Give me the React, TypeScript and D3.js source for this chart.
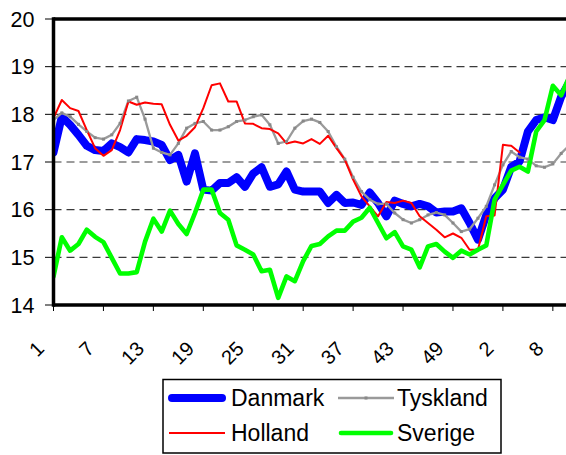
import React from "react";
import * as d3 from "d3";

const weeks: number[] = d3.range(63).map((i) => (i < 53 ? i + 1 : i - 52));
const tickEvery = 6;
const yTicks = [14, 15, 16, 17, 18, 19, 20];

const danmark = [
  17.2, 17.95, 17.78, 17.57, 17.34, 17.25, 17.23, 17.39, 17.31, 17.2,
  17.48, 17.46, 17.43, 17.36, 17.04, 17.15, 16.59, 17.18, 16.42, 16.4,
  16.56, 16.56, 16.68, 16.48, 16.76, 16.89, 16.48, 16.53, 16.8, 16.42,
  16.38, 16.38, 16.38, 16.14, 16.31, 16.14, 16.15, 16.1, 16.36, 16.14,
  15.86, 16.19, 16.12, 16.07, 16.12, 16.07, 15.94, 15.96, 15.96, 16.03,
  15.72, 15.37, 15.89, 16.24, 16.42, 16.9, 17.01, 17.64, 17.88, 17.94,
  17.88, 18.37, 18.68,
];
const tyskland = [
  17.88, 18.03, 17.95, 17.79, 17.64, 17.51, 17.48, 17.57, 17.81, 18.28,
  18.36, 17.9, 17.29, 17.2, 17.15, 17.39, 17.71, 17.81, 17.85, 17.67,
  17.67, 17.74, 17.85, 17.88, 17.95, 17.99, 17.78, 17.39, 17.43, 17.71,
  17.86, 17.9, 17.83, 17.64, 17.32, 17.06, 16.68, 16.38, 16.21, 16.12,
  16.12, 15.93, 15.79, 15.72, 15.79, 15.89, 15.94, 15.89, 15.72, 15.54,
  15.59, 15.82, 16.07, 16.52, 16.94, 17.22, 17.1, 17.06, 16.92, 16.89,
  16.96, 17.18, 17.35,
];
const holland = [
  17.92, 18.3, 18.13, 18.07, 17.67, 17.29, 17.13, 17.25, 17.67, 18.27,
  18.2, 18.25, 18.22, 18.21, 17.78, 17.45, 17.55, 17.73, 18.13, 18.61,
  18.65, 18.27, 18.27, 17.81, 17.8, 17.71, 17.69, 17.6, 17.39, 17.43,
  17.39, 17.48, 17.38, 17.55, 17.29, 17.05, 16.63, 16.28, 16.07, 15.86,
  16.16, 16.14, 16.19, 16.14, 15.86, 15.72, 15.58, 15.42, 15.5, 15.41,
  15.16, 15.16, 15.86, 15.88, 17.36, 17.34, 17.2,
];
const sverige = [
  14.6, 15.42, 15.14, 15.28, 15.58, 15.43, 15.32, 14.99, 14.66, 14.66,
  14.69, 15.33, 15.81, 15.54, 15.98, 15.7, 15.49, 15.93, 16.42, 16.42,
  15.93, 15.79, 15.25, 15.16, 15.06, 14.71, 14.74, 14.15, 14.6, 14.5,
  14.92, 15.24, 15.28, 15.44, 15.56, 15.56, 15.75, 15.83, 16.04, 15.72,
  15.4, 15.53, 15.23, 15.16, 14.79, 15.23, 15.28, 15.12, 14.99, 15.14,
  15.06, 15.16, 15.25, 16.21, 16.52, 16.82, 16.9, 16.8, 17.64, 17.88,
  18.6, 18.4, 18.8,
];

const W = 566;
const H = 455;
const left = 53.5;
const top = 19;
const bottom = 305;
const right = 569.5;

export default function App() {
  const x = d3
    .scaleLinear()
    .domain([0, weeks.length - 1])
    .range([left, right]);
  const y = d3.scaleLinear().domain([14, 20]).range([bottom, top]);
  const line = d3
    .line<number>()
    .x((_, i) => x(i))
    .y((d) => y(d));

  const font = "Liberation Sans, Arial, sans-serif";
  const series = [
    { name: "Danmark", data: danmark, color: "#0000ff", width: 8 },
    { name: "Tyskland", data: tyskland, color: "#9a9a9a", width: 2.3 },
    { name: "Holland", data: holland, color: "#ff0000", width: 2 },
    { name: "Sverige", data: sverige, color: "#00ff00", width: 4.6 },
  ];
  const tickIdx = d3.range(0, weeks.length, tickEvery);

  const legendItems = [
    { s: series[0], lx: 169, tx: 231, cy: 398 },
    { s: series[1], lx: 338, tx: 397, cy: 398 },
    { s: series[2], lx: 169, tx: 231, cy: 433 },
    { s: series[3], lx: 338, tx: 397, cy: 433 },
  ];

  return (
    <svg
      width={W}
      height={H}
      style={{ position: "absolute", left: 0, top: 0, background: "#fff" }}
      fontFamily={font}
    >
      <defs>
        <clipPath id="plot">
          <rect x={left} y={0} width={W - left} height={bottom + 8} />
        </clipPath>
      </defs>
      {yTicks
        .filter((t) => t > 14 && t < 20)
        .map((t) => (
          <line
            key={t}
            x1={left}
            x2={W}
            y1={y(t)}
            y2={y(t)}
            stroke="#3a3a3a"
            strokeWidth={1.1}
            strokeDasharray="8,5"
          />
        ))}
      {yTicks.map((t) => (
        <g key={"yt" + t}>
          <line x1={45} x2={left} y1={y(t)} y2={y(t)} stroke="#000" strokeWidth={1} />
          <text
            x={34.5}
            y={y(t)}
            dy="0.36em"
            textAnchor="end"
            fontSize={21.5}
            fill="#000"
          >
            {t}
          </text>
        </g>
      ))}
      {tickIdx.map((i) => (
        <g key={"xt" + i}>
          <line x1={x(i)} x2={x(i)} y1={bottom} y2={bottom + 6} stroke="#000" strokeWidth={1} />
          <text
            transform={`translate(${x(i) - 13},${345}) rotate(-45)`}
            dy="0.35em"
            textAnchor="end"
            fontSize={20}
            fill="#000"
          >
            {weeks[i]}
          </text>
        </g>
      ))}
      <g clipPath="url(#plot)">
        {series.map((s) => (
          <path
            key={s.name}
            d={line(s.data) || ""}
            fill="none"
            stroke={s.color}
            strokeWidth={s.width}
            strokeLinejoin="round"
            strokeLinecap="round"
          />
        ))}
        {tyskland.map((v, i) => (
          <rect
            key={"m" + i}
            x={x(i) - 1.5}
            y={y(v) - 1.5}
            width={3}
            height={3}
            fill="#888"
          />
        ))}
      </g>
      <line x1={left} x2={W} y1={top} y2={top} stroke="#000" strokeWidth={3.5} />
      <line x1={left} x2={left} y1={top - 1.75} y2={bottom + 1.75} stroke="#000" strokeWidth={3.5} />
      <line x1={left} x2={W} y1={bottom} y2={bottom} stroke="#000" strokeWidth={3.5} />

      <rect x={163} y={379.5} width={338} height={73.5} fill="#fff" stroke="#000" strokeWidth={1.5} />
      {legendItems.map(({ s, lx, tx, cy }) => (
        <g key={"lg" + s.name}>
          <line
            x1={lx + (s.width > 3 ? 3 : 0)}
            x2={lx + 56 - (s.width > 3 ? 3 : 0)}
            y1={cy}
            y2={cy}
            stroke={s.color}
            strokeWidth={s.width}
            strokeLinecap={s.width > 3 ? "round" : "butt"}
          />
          {s.name === "Tyskland" && (
            <rect x={lx + 26.5} y={cy - 1.5} width={3} height={3} fill="#888" />
          )}
          <text x={tx} y={cy} dy="0.36em" fontSize={23} fill="#000">
            {s.name}
          </text>
        </g>
      ))}
    </svg>
  );
}
